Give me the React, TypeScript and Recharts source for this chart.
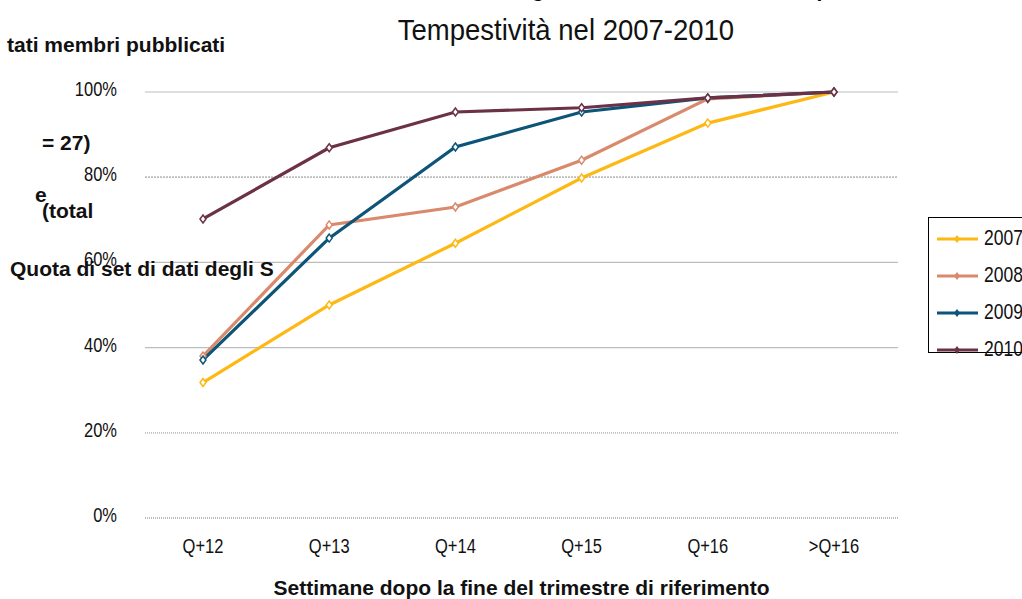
import React from "react";
import { LineChart, Line, XAxis, YAxis, ReferenceLine } from "recharts";

const categories = ["Q+12", "Q+13", "Q+14", "Q+15", "Q+16", ">Q+16"];
const serie2007 = [0.318, 0.5, 0.645, 0.798, 0.927, 1.0];
const serie2008 = [0.38, 0.688, 0.73, 0.84, 0.984, 1.0];
const serie2009 = [0.371, 0.657, 0.871, 0.953, 0.986, 1.0];
const serie2010 = [0.702, 0.869, 0.953, 0.963, 0.986, 1.0];
const yTicks = [0, 0.2, 0.4, 0.6, 0.8, 1];

const anni = ["2007", "2008", "2009", "2010"];
const colori: Record<string, string> = {
  "2007": "#FDB813",
  "2008": "#D98A6C",
  "2009": "#0D5479",
  "2010": "#6B3147",
};

// stile delle linee di griglia (come nell'originale, non tutte uguali)
const grigliaDash: Record<number, string | undefined> = {
  0: "1 1",
  0.2: "1 1",
  0.4: undefined,
  0.6: undefined,
  0.8: "2 1",
  1: undefined,
};

const dati = categories.map((c, i) => ({
  cat: c,
  "2007": serie2007[i],
  "2008": serie2008[i],
  "2009": serie2009[i],
  "2010": serie2010[i],
}));

const FONT = "'Liberation Sans', Arial, sans-serif";

function Marcatore(props: any) {
  const { cx, cy, stroke } = props;
  if (cx == null || cy == null) return null;
  return (
    <path
      d={`M${cx},${cy - 4} L${cx + 3},${cy} L${cx},${cy + 4} L${cx - 3},${cy} Z`}
      fill="#fff"
      stroke={stroke}
      strokeWidth={1.5}
    />
  );
}

function TickX(props: any) {
  const { x, y, payload } = props;
  return (
    <g transform={`translate(${x},${y + 35}) scale(1,1.2)`}>
      <text textAnchor="middle" fontFamily={FONT} fontSize={16.5} fill="#111">
        {payload.value}
      </text>
    </g>
  );
}

function TickY(props: any) {
  const { x, y, payload } = props;
  return (
    <g transform={`translate(${x - 28},${y + 4}) scale(1,1.2)`}>
      <text textAnchor="end" fontFamily={FONT} fontSize={16.5} fill="#111">
        {Math.round(payload.value * 100)}%
      </text>
    </g>
  );
}

function Legenda() {
  return (
    <div
      style={{
        position: "absolute",
        left: 928,
        top: 217,
        border: "1px solid #000",
        width: 110,
        height: 136,
        background: "#fff",
        boxSizing: "border-box",
        paddingTop: 2,
      }}
    >
      {anni.map((a) => (
        <div key={a} style={{ display: "flex", alignItems: "center", height: 37 }}>
          <svg width={52} height={12} style={{ marginLeft: 7 }}>
            <line x1={1} y1={6} x2={42} y2={6} stroke={colori[a]} strokeWidth={3} />
            <path d="M21,2 L24,6 L21,10 L18,6 Z" fill={colori[a]} />
          </svg>
          <span
            style={{
              fontFamily: FONT,
              fontSize: 17.5,
              color: "#111",
              display: "inline-block",
              transform: "scale(1,1.25)",
              marginLeft: -4,
            }}
          >
            {a}
          </span>
        </div>
      ))}
    </div>
  );
}

const etichetta: React.CSSProperties = {
  position: "absolute",
  fontFamily: FONT,
  fontWeight: "bold",
  fontSize: 21,
  color: "#111",
  whiteSpace: "nowrap",
  lineHeight: 1,
};

export default function App() {
  return (
    <div
      style={{
        position: "absolute",
        left: 0,
        top: 0,
        width: 1022,
        height: 599,
        background: "#fff",
        overflow: "hidden",
      }}
    >
      <LineChart
        width={1022}
        height={599}
        data={dati}
        margin={{ top: 92, right: 124, bottom: 51, left: 0 }}
      >
        {yTicks.map((t) => (
          <ReferenceLine
            key={t}
            y={t}
            stroke="#bdbdbd"
            strokeWidth={t === 1 || t === 0.4 || t === 0.6 ? 1.2 : 1.8}
            strokeDasharray={grigliaDash[t]}
          />
        ))}
        <XAxis
          dataKey="cat"
          axisLine={false}
          tickLine={false}
          tickSize={0}
          tickMargin={0}
          height={30}
          padding={{ left: 58, right: 64 }}
          tick={<TickX />}
        />
        <YAxis
          domain={[0, 1]}
          ticks={yTicks}
          axisLine={false}
          tickLine={false}
          tickSize={0}
          tickMargin={0}
          width={145}
          tick={<TickY />}
        />
        {anni.map((a) => (
          <Line
            key={a}
            dataKey={a}
            stroke={colori[a]}
            strokeWidth={3.2}
            dot={<Marcatore />}
            isAnimationActive={false}
          />
        ))}
      </LineChart>

      <Legenda />

      <div
        style={{
          position: "absolute",
          left: 401,
          top: -20,
          fontFamily: FONT,
          fontWeight: "bold",
          fontSize: 21,
          lineHeight: "20px",
          whiteSpace: "nowrap",
        }}
      >
        Set di dati degli Stati membri trasmessi e pubblicati
      </div>
      <div
        style={{
          position: "absolute",
          left: 0,
          width: 1132,
          top: 17,
          textAlign: "center",
          fontFamily: FONT,
          fontSize: 27.5,
          color: "#111",
          lineHeight: 1,
          transform: "scale(1,1.05)",
        }}
      >
        Tempestività nel 2007-2010
      </div>

      <div style={{ ...etichetta, left: 7, top: 34 }}>tati membri pubblicati</div>
      <div style={{ ...etichetta, left: 42, top: 132 }}>= 27)</div>
      <div style={{ ...etichetta, left: 35, top: 184 }}>e</div>
      <div style={{ ...etichetta, left: 42, top: 200 }}>(total</div>
      <div style={{ ...etichetta, left: 10, top: 258 }}>Quota di set di dati degli S</div>

      <div
        style={{
          ...etichetta,
          left: 145,
          width: 753,
          top: 577,
          textAlign: "center",
        }}
      >
        Settimane dopo la fine del trimestre di riferimento
      </div>
    </div>
  );
}
